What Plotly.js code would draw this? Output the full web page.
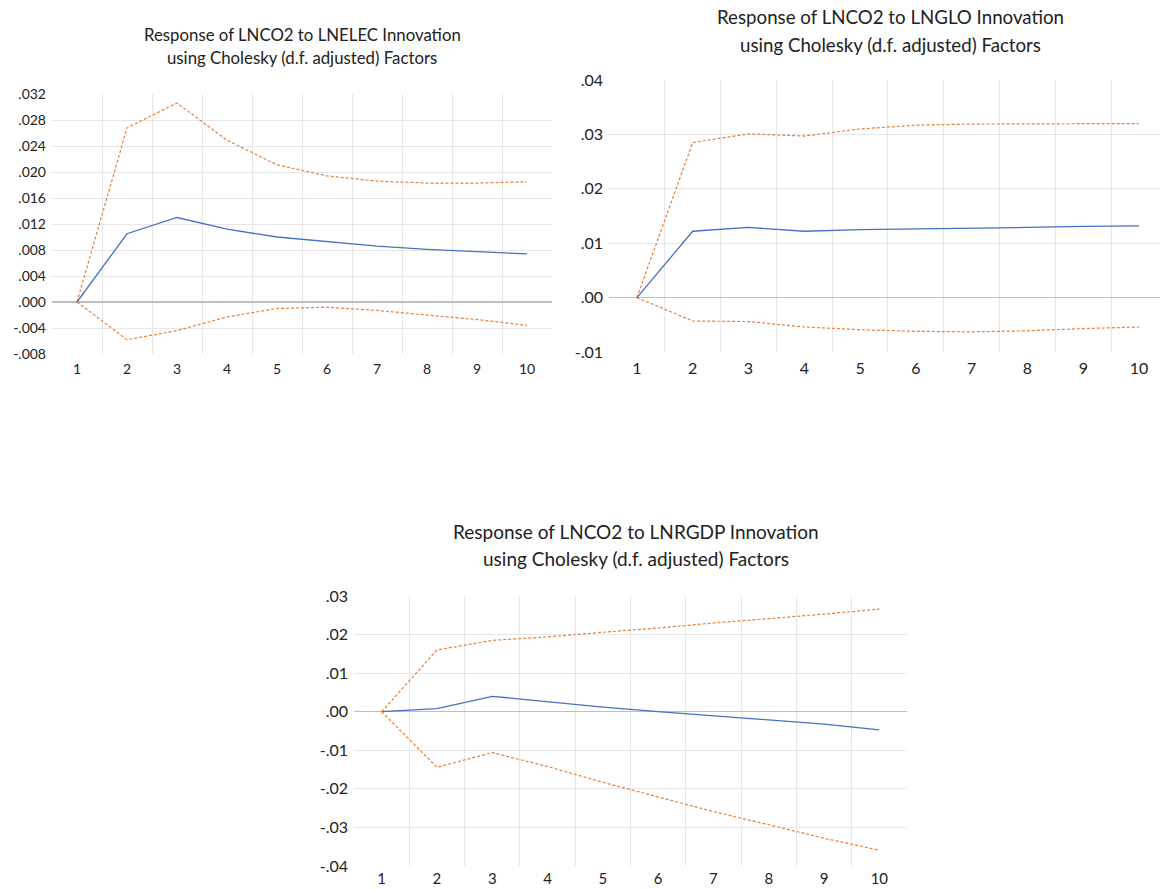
<!DOCTYPE html>
<html>
<head>
<meta charset="utf-8">
<script src="https://cdn.plot.ly/plotly-3.0.1.min.js"></script>
<style>html,body{margin:0;padding:0;background:#fff}#chart{width:1160px;height:890px}</style>
</head>
<body>
<div id="chart"></div>
<script>
// Periods
const periods = [1, 2, 3, 4, 5, 6, 7, 8, 9, 10];

// Response of LNCO2 to LNELEC
const elecResp  = [0, 0.0105, 0.0130, 0.0112, 0.0100, 0.0093, 0.0086, 0.0081, 0.0078, 0.0074];
const elecUpper = [0, 0.0268, 0.0306, 0.0249, 0.0211, 0.0194, 0.0186, 0.0183, 0.0183, 0.0185];
const elecLower = [0, -0.0058, -0.0044, -0.0023, -0.0010, -0.0008, -0.0013, -0.0020, -0.0027, -0.0036];

// Response of LNCO2 to LNGLO
const gloResp  = [0, 0.0122, 0.0129, 0.0122, 0.0125, 0.0126, 0.0127, 0.0129, 0.0131, 0.0132];
const gloUpper = [0, 0.0285, 0.0301, 0.0297, 0.0310, 0.0317, 0.0319, 0.0319, 0.0319, 0.0320];
const gloLower = [0, -0.0043, -0.0044, -0.0054, -0.0059, -0.0062, -0.0063, -0.0061, -0.0057, -0.0054];

// Response of LNCO2 to LNRGDP
const gdpResp  = [0, 0.0008, 0.0040, 0.0026, 0.0012, 0.0000, -0.0011, -0.0022, -0.0032, -0.0047];
const gdpUpper = [0, 0.0160, 0.0185, 0.0194, 0.0206, 0.0217, 0.0230, 0.0241, 0.0253, 0.0266];
const gdpLower = [0, -0.0144, -0.0106, -0.0142, -0.0183, -0.0222, -0.0259, -0.0293, -0.0328, -0.0359];

// Tick labels
const xTickText = ["1","2","3","4","5","6","7","8","9","10"];
const elecTickVals = [-0.008,-0.004,0,0.004,0.008,0.012,0.016,0.020,0.024,0.028,0.032];
const elecTickText = ["-.008","-.004",".000",".004",".008",".012",".016",".020",".024",".028",".032"];
const gloTickVals = [-0.01,0,0.01,0.02,0.03,0.04];
const gloTickText = ["-.01",".00",".01",".02",".03",".04"];
const gdpTickVals = [-0.04,-0.03,-0.02,-0.01,0,0.01,0.02,0.03];
const gdpTickText = ["-.04","-.03","-.02","-.01",".00",".01",".02",".03"];

const titles = [
  ["Response of LNCO2 to LNELEC Innovation", "using Cholesky (d.f. adjusted) Factors"],
  ["Response of LNCO2 to LNGLO Innovation", "using Cholesky (d.f. adjusted) Factors"],
  ["Response of LNCO2 to LNRGDP Innovation", "using Cholesky (d.f. adjusted) Factors"]
];

const W = 1160, H = 890;
const BLUE = "#4472C4", ORANGE = "#ED7D31";
const FONT = "Lato, 'Open Sans', sans-serif";
const GRID = "#e6e6e6";

function traces(xa, ya, r, u, l) {
  return [
    {x: periods, y: u, xaxis: xa, yaxis: ya, mode: "lines", line: {color: ORANGE, width: 1.2, dash: "3px,2px"}, hoverinfo: "skip"},
    {x: periods, y: l, xaxis: xa, yaxis: ya, mode: "lines", line: {color: ORANGE, width: 1.2, dash: "3px,2px"}, hoverinfo: "skip"},
    {x: periods, y: r, xaxis: xa, yaxis: ya, mode: "lines", line: {color: BLUE, width: 1.3}, hoverinfo: "skip"}
  ];
}

const data = [].concat(
  traces("x", "y", elecResp, elecUpper, elecLower),
  traces("x2", "y2", gloResp, gloUpper, gloLower),
  traces("x3", "y3", gdpResp, gdpUpper, gdpLower)
);

function xax(left, right, rmax, fs, anchor, standoff) {
  return {
    domain: [left / W, right / W], range: [0.5, rmax], anchor: anchor,
    tickvals: periods, ticktext: xTickText, showgrid: false, zeroline: false, showline: false,
    ticks: "", ticklabelstandoff: standoff, tickfont: {family: FONT, size: fs, color: "#222"},
    minor: {tickvals: [1.5,2.5,3.5,4.5,5.5,6.5,7.5,8.5,9.5], showgrid: true, gridcolor: GRID, gridwidth: 1, ticks: ""},
    fixedrange: true
  };
}
function yax(top, bottom, rng, tv, tt, fs, anchor) {
  return {
    domain: [1 - bottom / H, 1 - top / H], range: rng, anchor: anchor,
    tickvals: tv, ticktext: tt, showgrid: false, zeroline: true, zerolinecolor: "#bfbfbf", zerolinewidth: 1.2,
    showline: false, ticks: "", ticklabelstandoff: 5, tickfont: {family: FONT, size: fs, color: "#222"},
    minor: {tickvals: tv.slice(1, -1), showgrid: true, gridcolor: GRID, gridwidth: 1, ticks: ""},
    fixedrange: true
  };
}

function ann(text, x, y, fs) {
  return {text: text, x: x / W, y: 1 - y / H, xref: "paper", yref: "paper", showarrow: false,
    xanchor: "center", yanchor: "middle", font: {family: FONT, size: fs, color: "#222"}};
}

const layout = {
  width: W, height: H, margin: {l: 0, r: 0, t: 0, b: 0},
  paper_bgcolor: "#fff", plot_bgcolor: "#fff", showlegend: false,
  xaxis: xax(52, 552, 10.5, 14, "y", 5),
  yaxis: yax(94, 354, [-0.008, 0.032], elecTickVals, elecTickText, 14, "x"),
  xaxis2: xax(609, 1160, 10.375, 16, "y2", 5),
  yaxis2: yax(80, 352, [-0.01, 0.04], gloTickVals, gloTickText, 16, "x2"),
  xaxis3: xax(354, 907, 10.5, 15, "y3", 2),
  yaxis3: yax(596, 866, [-0.04, 0.03], gdpTickVals, gdpTickText, 16, "x3"),
  annotations: [
    ann(titles[0][0], 302, 34, 16.8), ann(titles[0][1], 302, 58, 16.8),
    ann(titles[1][0], 890, 17, 18.7), ann(titles[1][1], 890, 45, 18.7),
    ann(titles[2][0], 636, 531, 19), ann(titles[2][1], 636, 558, 19)
  ]
};

Plotly.newPlot("chart", data, layout, {displayModeBar: false, staticPlot: true});
</script>
</body>
</html>
